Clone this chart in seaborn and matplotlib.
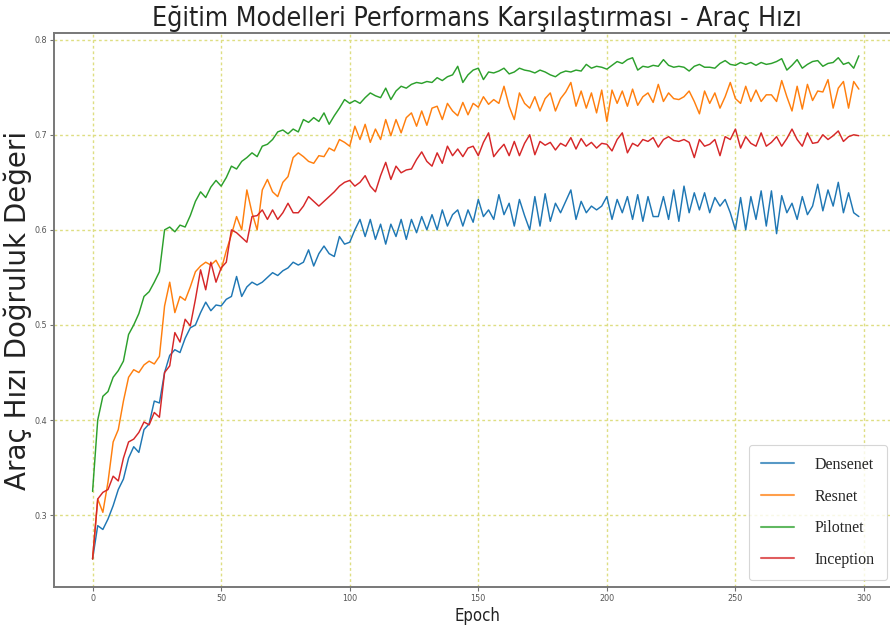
import matplotlib
matplotlib.use("Agg")
import matplotlib.pyplot as plt
import seaborn as sns
import pandas as pd

epochs = list(range(0, 300, 2))

densenet = [
    0.254, 0.289, 0.285, 0.296, 0.310, 0.327, 0.338, 0.360, 0.372, 0.366,
    0.390, 0.396, 0.420, 0.418, 0.450, 0.468, 0.474, 0.471, 0.486, 0.497,
    0.500, 0.513, 0.524, 0.515, 0.521, 0.520, 0.527, 0.530, 0.551, 0.530,
    0.540, 0.545, 0.542, 0.545, 0.550, 0.555, 0.552, 0.557, 0.560, 0.566,
    0.563, 0.566, 0.579, 0.562, 0.575, 0.583, 0.575, 0.572, 0.593, 0.585,
    0.587, 0.600, 0.611, 0.593, 0.611, 0.590, 0.606, 0.585, 0.606, 0.593,
    0.611, 0.590, 0.611, 0.597, 0.614, 0.600, 0.616, 0.600, 0.621, 0.604,
    0.616, 0.621, 0.604, 0.621, 0.608, 0.632, 0.614, 0.621, 0.611, 0.637,
    0.616, 0.628, 0.604, 0.632, 0.615, 0.600, 0.635, 0.604, 0.638, 0.609,
    0.628, 0.618, 0.630, 0.642, 0.611, 0.630, 0.618, 0.625, 0.621, 0.625,
    0.635, 0.611, 0.632, 0.618, 0.635, 0.611, 0.637, 0.609, 0.635, 0.614,
    0.614, 0.635, 0.611, 0.642, 0.609, 0.646, 0.618, 0.639, 0.621, 0.639,
    0.618, 0.634, 0.625, 0.632, 0.618, 0.600, 0.634, 0.600, 0.635, 0.611,
    0.641, 0.604, 0.641, 0.596, 0.636, 0.618, 0.628, 0.611, 0.635, 0.616,
    0.625, 0.648, 0.620, 0.642, 0.625, 0.650, 0.618, 0.639, 0.618, 0.614,
]

resnet = [
    0.254, 0.317, 0.303, 0.335, 0.377, 0.390, 0.420, 0.445, 0.453, 0.450,
    0.458, 0.462, 0.459, 0.467, 0.520, 0.545, 0.513, 0.530, 0.526, 0.540,
    0.556, 0.562, 0.566, 0.563, 0.568, 0.558, 0.578, 0.595, 0.614, 0.600,
    0.642, 0.618, 0.600, 0.642, 0.653, 0.640, 0.635, 0.650, 0.656, 0.676,
    0.681, 0.677, 0.672, 0.670, 0.678, 0.677, 0.686, 0.683, 0.695, 0.692,
    0.688, 0.709, 0.695, 0.711, 0.692, 0.706, 0.695, 0.716, 0.699, 0.716,
    0.702, 0.718, 0.723, 0.709, 0.725, 0.710, 0.728, 0.730, 0.716, 0.733,
    0.725, 0.720, 0.734, 0.721, 0.733, 0.729, 0.740, 0.732, 0.737, 0.733,
    0.751, 0.730, 0.716, 0.744, 0.733, 0.728, 0.740, 0.725, 0.738, 0.744,
    0.725, 0.738, 0.745, 0.755, 0.730, 0.746, 0.728, 0.744, 0.723, 0.747,
    0.714, 0.747, 0.733, 0.746, 0.730, 0.748, 0.731, 0.740, 0.744, 0.734,
    0.753, 0.735, 0.744, 0.738, 0.737, 0.740, 0.746, 0.735, 0.722, 0.746,
    0.733, 0.744, 0.728, 0.740, 0.755, 0.738, 0.733, 0.751, 0.735, 0.747,
    0.735, 0.742, 0.742, 0.735, 0.757, 0.740, 0.725, 0.751, 0.727, 0.753,
    0.736, 0.746, 0.745, 0.758, 0.728, 0.749, 0.756, 0.728, 0.756, 0.748,
]

pilotnet = [
    0.325, 0.400, 0.425, 0.430, 0.445, 0.452, 0.462, 0.490, 0.500, 0.512,
    0.530, 0.535, 0.545, 0.556, 0.600, 0.603, 0.598, 0.605, 0.603, 0.615,
    0.630, 0.640, 0.634, 0.645, 0.652, 0.646, 0.655, 0.667, 0.664, 0.672,
    0.676, 0.681, 0.677, 0.688, 0.690, 0.695, 0.703, 0.705, 0.701, 0.706,
    0.703, 0.716, 0.713, 0.718, 0.714, 0.723, 0.711, 0.720, 0.728, 0.737,
    0.733, 0.736, 0.733, 0.739, 0.744, 0.741, 0.739, 0.749, 0.737, 0.746,
    0.751, 0.749, 0.753, 0.755, 0.754, 0.756, 0.755, 0.760, 0.757, 0.761,
    0.763, 0.772, 0.755, 0.763, 0.768, 0.770, 0.758, 0.766, 0.765, 0.767,
    0.770, 0.764, 0.766, 0.770, 0.768, 0.767, 0.765, 0.768, 0.766, 0.763,
    0.761, 0.765, 0.767, 0.766, 0.768, 0.767, 0.774, 0.770, 0.772, 0.771,
    0.769, 0.773, 0.777, 0.775, 0.779, 0.781, 0.768, 0.772, 0.771, 0.773,
    0.772, 0.779, 0.773, 0.771, 0.772, 0.771, 0.767, 0.772, 0.774, 0.771,
    0.771, 0.770, 0.775, 0.778, 0.774, 0.773, 0.776, 0.774, 0.776, 0.773,
    0.776, 0.774, 0.775, 0.777, 0.780, 0.768, 0.773, 0.779, 0.770, 0.774,
    0.777, 0.778, 0.772, 0.775, 0.776, 0.781, 0.774, 0.776, 0.770, 0.783,
]

inception = [
    0.254, 0.317, 0.324, 0.327, 0.341, 0.336, 0.360, 0.377, 0.380, 0.387,
    0.398, 0.395, 0.408, 0.403, 0.450, 0.457, 0.492, 0.482, 0.506, 0.499,
    0.527, 0.558, 0.537, 0.566, 0.545, 0.560, 0.566, 0.600, 0.597, 0.592,
    0.587, 0.614, 0.615, 0.621, 0.611, 0.621, 0.611, 0.618, 0.628, 0.618,
    0.618, 0.625, 0.635, 0.630, 0.625, 0.630, 0.635, 0.640, 0.646, 0.650,
    0.652, 0.646, 0.650, 0.657, 0.646, 0.640, 0.657, 0.671, 0.653, 0.667,
    0.660, 0.663, 0.664, 0.674, 0.682, 0.672, 0.667, 0.681, 0.670, 0.688,
    0.678, 0.685, 0.677, 0.686, 0.688, 0.678, 0.692, 0.702, 0.677, 0.684,
    0.690, 0.678, 0.693, 0.678, 0.691, 0.700, 0.679, 0.693, 0.689, 0.692,
    0.684, 0.691, 0.688, 0.697, 0.685, 0.696, 0.688, 0.692, 0.686, 0.691,
    0.690, 0.683, 0.695, 0.702, 0.681, 0.691, 0.688, 0.695, 0.693, 0.697,
    0.687, 0.695, 0.698, 0.694, 0.693, 0.695, 0.692, 0.676, 0.695, 0.688,
    0.690, 0.695, 0.678, 0.698, 0.695, 0.706, 0.686, 0.698, 0.691, 0.688,
    0.702, 0.688, 0.692, 0.698, 0.688, 0.696, 0.706, 0.695, 0.688, 0.702,
    0.691, 0.692, 0.700, 0.695, 0.699, 0.704, 0.693, 0.698, 0.700, 0.699,
]

models = ["Densenet", "Resnet", "Pilotnet", "Inception"]
series = [densenet, resnet, pilotnet, inception]
colors = ["#1f77b4", "#ff7f0e", "#2ca02c", "#d62728"]

title = "Eğitim Modelleri Performans Karşılaştırması - Araç Hızı"
xlabel = "Epoch"
ylabel = "Araç Hızı Doğruluk Değeri"

frames = []
for name, vals in zip(models, series):
    frames.append(pd.DataFrame({"Epoch": epochs[:len(vals)], "Value": vals, "Model": name}))
df = pd.concat(frames, ignore_index=True)

sns.set_theme(style="white")
plt.rcParams["font.family"] = ["DejaVu Sans"]

W, H = 890, 636
fig = plt.figure(figsize=(W / 100, H / 100), dpi=100)
ax = fig.add_axes([54 / W, 1 - 587 / H, (900 - 54) / W, (587 - 33) / H])

sns.lineplot(data=df, x="Epoch", y="Value", hue="Model", hue_order=models,
             palette=dict(zip(models, colors)), linewidth=1.05, ax=ax, legend=False)

ax.set_xlim(-15, 314)
ax.set_ylim(0.2245, 0.807)
ax.set_xticks([0, 50, 100, 150, 200, 250, 300])
ax.set_yticks([0.3, 0.4, 0.5, 0.6, 0.7, 0.8])
ax.grid(True, color="#dede82", linestyle=(0, (2, 2)), linewidth=1.0)
for s in ax.spines.values():
    s.set_color("#787878")
    s.set_linewidth(1.4)
ax.tick_params(axis="both", which="major", length=3, width=0.8, color="#707070",
               labelsize=6.5, labelcolor="#555555", bottom=True, left=True, pad=2)
for lab in ax.get_xticklabels() + ax.get_yticklabels():
    lab.set_fontstretch("condensed")

t = ax.set_title(title, fontsize=20, pad=5, color="#222222")
t.set_fontstretch("condensed")
xl = ax.set_xlabel(xlabel, fontsize=15, labelpad=3, color="#222222")
xl.set_fontstretch("condensed")
ax.set_ylabel(ylabel, fontsize=20, color="#222222")
ax.yaxis.set_label_coords(-22 / 846, 0.5)

handles = [plt.Line2D([], [], color=c, linewidth=1.5, alpha=0.75) for c in colors]
leg = fig.legend(handles, models, loc="lower right", bbox_to_anchor=(887 / W, 1 - 580 / H),
                 bbox_transform=fig.transFigure, borderaxespad=0,
                 prop={"family": ["Liberation Serif"], "size": 11.5},
                 handlelength=2.1, handletextpad=1.3, labelspacing=0.98,
                 borderpad=0.75, frameon=True, fancybox=True)
leg.get_frame().set_edgecolor("#cccccc")
leg.get_frame().set_linewidth(0.8)

# fit horizontal texts to the reference widths (the reference text is narrow)
fig.canvas.draw()
r = fig.canvas.get_renderer()
for txt, target in [(t, 650), (xl, 46)]:
    w = txt.get_window_extent(r).width
    if w > 0:
        txt.set_fontsize(txt.get_fontsize() * target / w)

fig.savefig("out.png", dpi=100)
